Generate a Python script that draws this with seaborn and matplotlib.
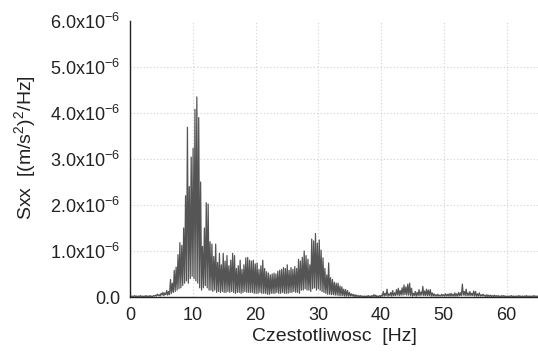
import numpy as np
import pandas as pd
import matplotlib
matplotlib.use("Agg")
import matplotlib.pyplot as plt
import seaborn as sns
from matplotlib.ticker import MultipleLocator, FuncFormatter

# ---- data (spectral density, units of 1e-8 (m/s^2)^2/Hz) ----
# spike maxima, at 0.15 + 0.3*k Hz
peaks = [
    2, 2, 3, 2, 2, 3, 2, 2, 3, 2,
    3, 2, 3, 4, 6, 5, 8, 10, 9, 14,
    12, 38, 30, 58, 65, 92, 118, 112, 150, 220,
    369, 240, 304, 323, 408, 435, 390, 250, 110, 150,
    205, 202, 120, 115, 88, 115, 75, 95, 70, 95,
    78, 90, 68, 80, 95, 90, 62, 68, 80, 60,
    70, 85, 86, 80, 78, 80, 72, 74, 60, 68,
    80, 62, 55, 52, 48, 50, 52, 50, 56, 58,
    60, 64, 62, 70, 58, 64, 60, 66, 62, 82,
    78, 86, 100, 90, 82, 70, 126, 122, 138, 117,
    124, 102, 85, 62, 48, 74, 42, 38, 32, 30,
    30, 24, 22, 17, 16, 14, 10, 7, 6, 5,
    4, 3, 3, 2, 2, 2, 3, 2, 3, 5,
    4, 2, 3, 4, 12, 8, 17, 7, 10, 14,
    9, 16, 19, 14, 20, 26, 22, 28, 30, 19,
    8, 12, 10, 16, 11, 23, 13, 17, 15, 16,
    9, 7, 5, 6, 4, 6, 5, 7, 6, 7,
    8, 6, 9, 7, 10, 9, 28, 12, 17, 9,
    12, 8, 13, 12, 7, 9, 5, 6, 4, 5,
    4, 4, 3, 4, 3, 3, 2, 3, 3, 2,
    2, 2, 3, 2, 2, 2, 3, 2, 2, 2,
    3, 2, 2, 2, 3, 2, 2,
]
# spike minima, at 0.3*k Hz
troughs = [
    1, 1, 1, 1, 1, 1, 1, 1, 1, 1, 1, 1, 1, 2,
    2, 3, 2, 4, 3, 5, 4,
    5, 8, 10, 12, 15, 18, 20, 25, 30, 35, 30, 40, 45, 40, 35, 30, 20, 15, 20, 25,
    20, 15, 15, 12, 15, 10, 12, 10, 12, 10, 10, 12, 10, 12, 10, 8, 10, 10, 8, 10,
    12, 10, 10, 10, 10, 8, 8, 8, 10, 8, 8, 8, 6, 6, 8, 8, 8, 10, 8, 8,
    10, 8, 8, 8, 10, 10, 12, 10, 10, 8, 15, 15, 18, 15, 15, 12, 18, 20, 15, 18,
    15, 12, 10, 8, 6, 6, 5, 5, 4, 4, 3, 3, 3, 2, 2, 2, 2, 2, 1, 1,
    1, 1, 1, 1, 1, 1, 1, 1, 1, 1, 1, 1, 1,
    2, 2, 3, 2, 3, 2, 3, 3, 4, 3, 4, 4, 5, 4, 4, 3, 2, 3, 2, 3, 3, 4, 3, 3, 3, 3, 2,
    2, 2, 2, 2, 2, 2, 2, 2, 2, 2, 2, 2, 2, 2, 3, 3, 4, 3, 3, 3,
    3, 3, 2, 2, 2, 2, 2, 2, 1, 1, 1, 1, 1, 1, 1, 1, 1, 1, 1, 1,
    1, 1, 1, 1, 1, 1, 1, 1, 1, 1, 1, 1, 1, 1, 1, 1, 1,
]
x_ticks = [0, 10, 20, 30, 40, 50, 60]
y_ticks_e6 = [0, 1, 2, 3, 4, 5, 6]

peak_f = 0.15 + 0.3 * np.arange(len(peaks))
trough_f = 0.3 * np.arange(len(troughs))
df = pd.DataFrame({
    "freq": np.concatenate([peak_f, trough_f]),
    "sxx": np.concatenate([np.array(peaks), np.array(troughs)]) * 1e-8,
}).sort_values("freq").reset_index(drop=True)

# ---- style ----
sns.set_style("white")
plt.rcParams["font.family"] = ["Liberation Sans", "DejaVu Sans"]
plt.rcParams["mathtext.default"] = "regular"

fig = plt.figure(figsize=(5.38, 3.52), dpi=100)
ax = fig.add_axes([130 / 538, 55 / 352, 408 / 538, 276 / 352])

# grid (dotted) at inner major ticks
for xv in x_ticks[1:]:
    ax.axvline(xv, color="#d0d0d0", lw=0.8, ls=(0, (1, 2)), zorder=0)
for yv in y_ticks_e6[1:-1]:
    ax.axhline(yv * 1e-6, color="#d0d0d0", lw=0.8, ls=(0, (1, 2)), zorder=0)

sns.lineplot(data=df, x="freq", y="sxx", ax=ax, color="#555555", lw=0.9,
             estimator=None, sort=True)

ax.set_xlim(0, 65)
ax.set_ylim(0, 6e-6)
ax.set_xticks(x_ticks)
ax.set_yticks([v * 1e-6 for v in y_ticks_e6])
ax.xaxis.set_minor_locator(MultipleLocator(5))
ax.yaxis.set_minor_locator(MultipleLocator(0.5e-6))


def yfmt(v, pos):
    m = v / 1e-6
    if abs(m) < 1e-9:
        return "0.0"
    return f"{m:.1f}x10$^{{-6}}$"


ax.yaxis.set_major_formatter(FuncFormatter(yfmt))

for s in ["top", "right"]:
    ax.spines[s].set_visible(False)
for s in ["left", "bottom"]:
    ax.spines[s].set_color("#222222")
    ax.spines[s].set_linewidth(1.0)

ax.tick_params(axis="both", which="major", direction="out", length=5, width=1,
               color="#222222", labelsize=13, labelcolor="#222222", pad=2)
ax.tick_params(axis="both", which="minor", direction="out", length=3, width=1,
               color="#222222")

ax.set_xlabel("Czestotliwosc  [Hz]", fontsize=14, color="#222222", labelpad=3)
ax.set_ylabel("Sxx  [(m/s$^2$)$^2$/Hz]", fontsize=14, color="#222222")
ax.yaxis.set_label_coords(-0.225, 0.54)

fig.savefig("out.png", dpi=100)
